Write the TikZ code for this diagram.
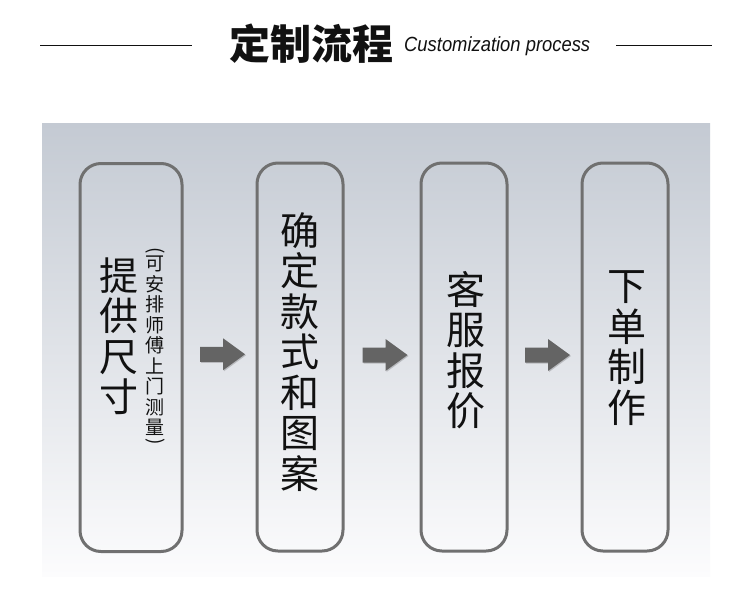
\documentclass[tikz,border=0pt]{standalone}
\usepackage{fontspec}
\setmainfont{Liberation Sans}
\newfontfamily\cjk{Noto Sans CJK SC}
\usetikzlibrary{calc}
\definecolor{panelTop}{HTML}{C4CAD3}
\definecolor{panelBot}{HTML}{FCFCFD}
\definecolor{boxline}{HTML}{707070}
\definecolor{arrowgray}{HTML}{646464}
\definecolor{ink}{HTML}{111111}
\tikzset{
  stepbox/.style={draw=boxline, line width=3pt, rounded corners=21pt, minimum height=388pt, inner sep=0pt},
  bigtext/.style={font=\cjk\fontsize{39}{40.5}\selectfont, text=ink, align=center, inner sep=0pt},
  smalltext/.style={font=\cjk\fontsize{19}{20.5}\selectfont, text=ink, align=center, inner sep=0pt},
  blockarrow/.pic={
    \fill[black, opacity=0.18] (-21.5,-6.5) -- (1.5,-6.5) -- (1.5,-15) -- (23.5,1) -- (1.5,17) -- (1.5,8.5) -- (-21.5,8.5) -- cycle;
    \fill[arrowgray] (-22.5,-7.5) -- (0.5,-7.5) -- (0.5,-16) -- (22.5,0) -- (0.5,16) -- (0.5,7.5) -- (-22.5,7.5) -- cycle;
  },
  rule/.style={line width=1pt, draw=ink}
}
\begin{document}
\begin{tikzpicture}[x=1pt, y=-1pt]
\useasboundingbox (0,0) rectangle (750,603);
\fill[white] (0,0) rectangle (750,603);
% panel
\shade[top color=panelTop, bottom color=panelBot] (42,123) rectangle (710,576);
% title
\node[font=\cjk\bfseries\fontsize{41}{41}\selectfont, text=ink, inner sep=0pt] (title) at (311,44) {定制流程};
\node[anchor=base west, inner sep=0pt, text=ink] (subtitle) at (404,51)
  {\resizebox{186pt}{\height}{\fontsize{20.5}{20.5}\selectfont\itshape Customization process}};
\coordinate (l1) at (40,45); \coordinate (l2) at (192,45);
\coordinate (r1) at (616,45); \coordinate (r2) at (712,45);
\draw[rule] (l1) -- (l2);
\draw[rule] (r1) -- (r2);
% boxes
\node[stepbox, minimum width=102pt] (b1) at (131,357.5) {};
\node[stepbox, minimum width=86pt] (b2) at (300,357) {};
\node[stepbox, minimum width=86pt] (b3) at (464,357) {};
\node[stepbox, minimum width=86pt] (b4) at (625,357) {};
% texts
\node[bigtext] (t1) at (119,336) {提\\供\\尺\\寸};
\node[smalltext] (t1s) at (155,348) {\rotatebox[origin=c]{-90}{(}\\[-7pt]可\\安\\排\\师\\傅\\上\\门\\测\\量\\[-7pt]\rotatebox[origin=c]{-90}{)}};
\node[bigtext] (t2) at (300,352) {确\\定\\款\\式\\和\\图\\案};
\node[bigtext] (t3) at (466,350) {客\\服\\报\\价};
\node[bigtext] (t4) at (627,348) {下\\单\\制\\作};
% arrows
\path ($(b1.east)!0.5!(b2.west)+(3,-3)$) pic {blockarrow};
\path ($(b2.east)!0.5!(b3.west)+(3,-2)$) pic {blockarrow};
\path ($(b3.east)!0.5!(b4.west)+(3,-2)$) pic {blockarrow};
\end{tikzpicture}
\end{document}
